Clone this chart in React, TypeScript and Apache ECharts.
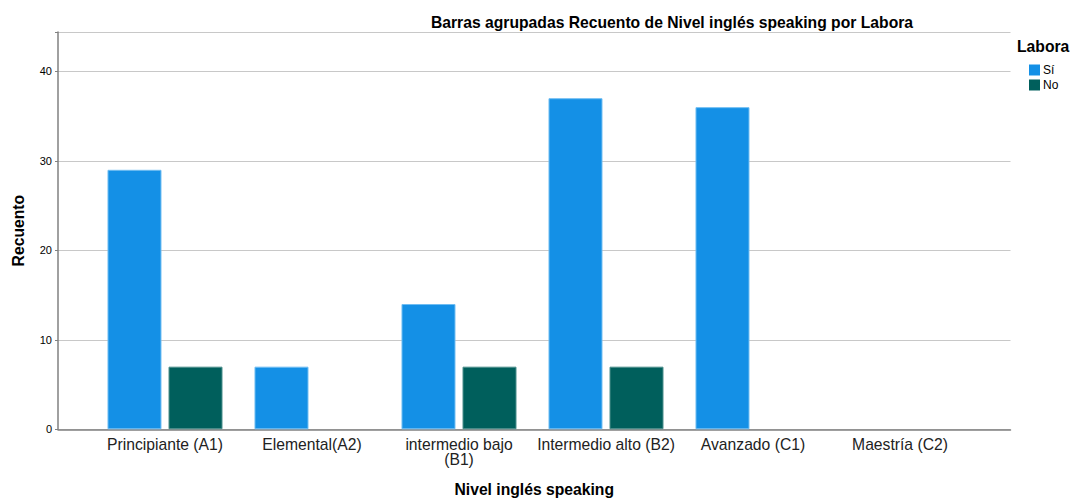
import React, { useEffect, useRef } from "react";
import * as echarts from "echarts";

const categories = [
  "Principiante (A1)",
  "Elemental(A2)",
  "intermedio bajo\n(B1)",
  "Intermedio alto (B2)",
  "Avanzado (C1)",
  "Maestría (C2)",
];
const siValues = [29, 7, 14, 37, 36, null];
const noValues = [7, null, 7, 7, null, null];
const yTicks = [0, 10, 20, 30, 40];
const seriesNames = ["Sí", "No"];

const FONT = "Liberation Sans, Arial, sans-serif";

export default function App() {
  const ref = useRef<HTMLDivElement>(null);
  useEffect(() => {
    document.body.style.margin = "0";
    const chart = echarts.init(ref.current!, null, { renderer: "svg" });
    const yMax = 44.4;
    chart.setOption({
      animation: false,
      backgroundColor: "#ffffff",
      textStyle: { fontFamily: FONT },
      title: {
        text: "Barras agrupadas Recuento de Nivel inglés speaking por Labora",
        left: 667,
        top: 9,
        textAlign: "center",
        textStyle: { fontFamily: FONT, fontSize: 15.7, fontWeight: "bold", color: "#000" },
      },
      legend: {
        orient: "vertical",
        left: 1029,
        top: 64,
        padding: 0,
        itemWidth: 11,
        itemHeight: 11,
        itemGap: 3,
        icon: "rect",
        data: seriesNames,
        itemStyle: { borderWidth: 0 },
        textStyle: { fontFamily: FONT, fontSize: 12, color: "#000", padding: [0, 0, 0, -2] },
      },
      graphic: [
        {
          type: "text",
          left: 1017,
          top: 38,
          style: { text: "Labora", font: `bold 15.7px ${FONT}`, fill: "#000" },
        },
      ],
      grid: [
        { left: 91.5, right: 101.5, top: 32, bottom: 69.7, outerBoundsMode: "none" },
        { left: 58, right: 64.5, top: 32, bottom: 69.7, outerBoundsMode: "none" },
      ],
      xAxis: [
        {
          type: "category",
          gridIndex: 0,
          data: categories,
          axisLine: { show: false },
          axisTick: { show: false },
          axisLabel: {
            margin: 8,
            fontFamily: FONT,
            fontSize: 15.7,
            lineHeight: 15,
            color: "#222",
            interval: 0,
          },
        },
        {
          type: "value",
          gridIndex: 1,
          min: 0,
          max: 1,
          axisLine: { show: true, lineStyle: { color: "#808080", width: 1.5 } },
          axisTick: { show: false },
          axisLabel: { show: false },
          splitLine: { show: false },
          name: "Nivel inglés speaking",
          nameLocation: "middle",
          nameGap: 52,
          nameTextStyle: { fontFamily: FONT, fontSize: 15.7, fontWeight: "bold", color: "#000" },
        },
      ],
      yAxis: [
        {
          type: "value",
          gridIndex: 0,
          min: 0,
          max: yMax,
          show: false,
          splitLine: { show: false },
        },
        {
          type: "value",
          gridIndex: 1,
          min: 0,
          max: yMax,
          interval: 10,
          axisLine: { show: true, lineStyle: { color: "#808080", width: 1.5 } },
          axisTick: { show: true, length: 3, lineStyle: { color: "#808080" } },
          axisLabel: {
            fontFamily: FONT,
            fontSize: 11,
            color: "#000",
            margin: 6,
            formatter: (v: number) => (yTicks.includes(v) ? String(v) : ""),
          },
          splitLine: { show: true, lineStyle: { color: "#c8c8c8", width: 1 } },
          name: "Recuento",
          nameLocation: "middle",
          nameGap: 32,
          nameRotate: 90,
          nameTextStyle: { fontFamily: FONT, fontSize: 15.7, fontWeight: "bold", color: "#000" },
        },
      ],
      series: [
        {
          name: seriesNames[0],
          type: "bar",
          xAxisIndex: 0,
          yAxisIndex: 0,
          data: siValues,
          barWidth: 54,
          barGap: "13%",
          itemStyle: { color: "#1490e6", borderColor: "#6fbdf2", borderWidth: 1 },
        },
        {
          name: seriesNames[1],
          type: "bar",
          xAxisIndex: 0,
          yAxisIndex: 0,
          data: noValues,
          barWidth: 54,
          barGap: "13%",
          itemStyle: { color: "#005f5c", borderColor: "#4d8f8c", borderWidth: 1 },
        },
      ],
    });
    return () => chart.dispose();
  }, []);
  return <div ref={ref} style={{ width: 1075, height: 499 }} />;
}
